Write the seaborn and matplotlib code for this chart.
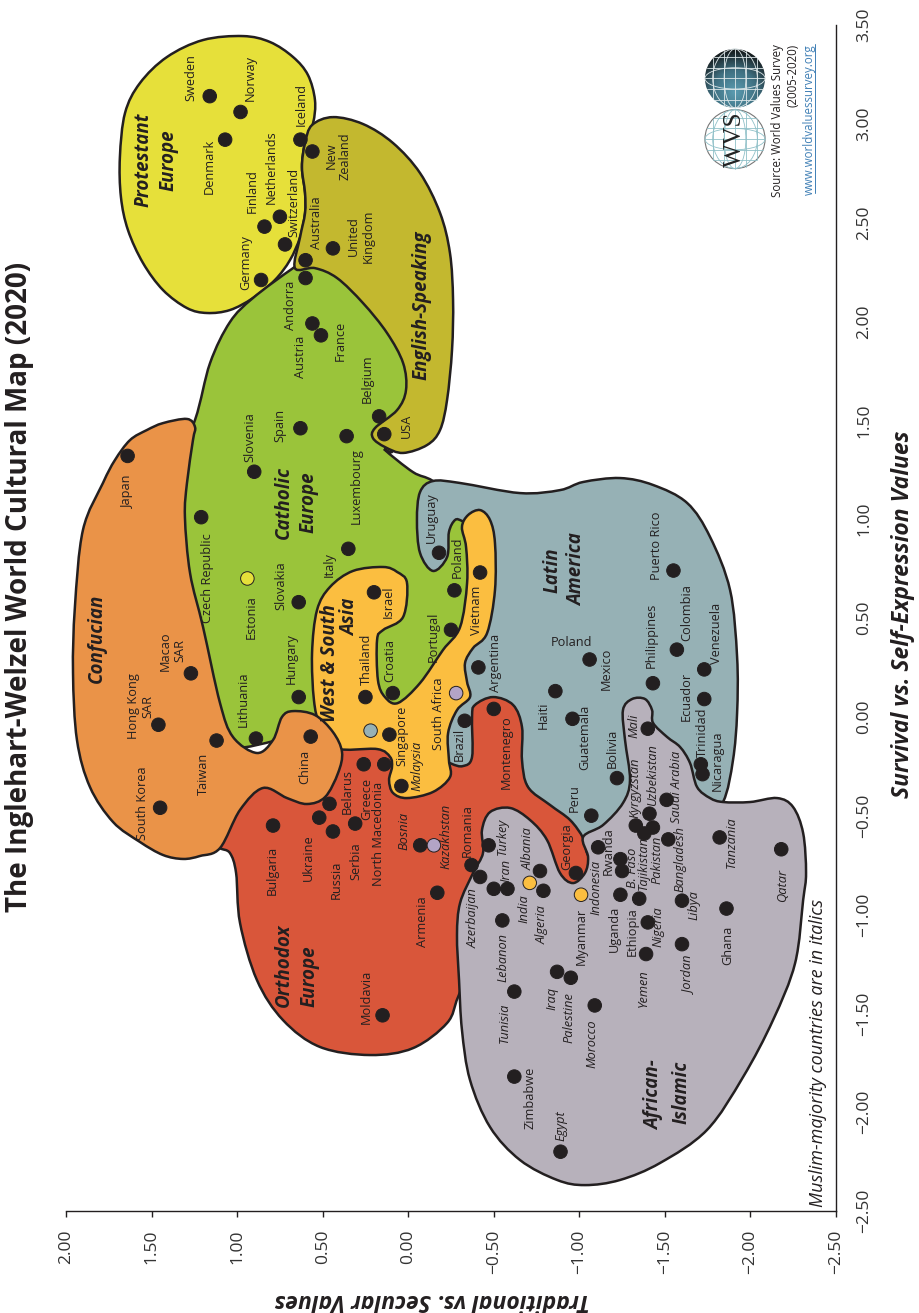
import numpy as np
import pandas as pd
import matplotlib
matplotlib.use('Agg')
import matplotlib.pyplot as plt
import seaborn as sns
from matplotlib.path import Path
from matplotlib.patches import PathPatch, Circle, Ellipse

# Countries: survival/self-expression and traditional/secular scores
countries = ['Sweden','Norway','Iceland','New Zealand','Denmark','Netherlands','Finland','Switzerland','Australia','United Kingdom',
             'Germany','Andorra','Austria','France','Belgium','USA','Spain','Luxembourg','Slovenia','Japan',
             'Czech Republic','Italy','Uruguay','Slovakia','Israel','Poland C','Portugal','Vietnam','Puerto Rico','Macao',
             'Hungary','Thailand','Croatia','Hong Kong','Taiwan','Lithuania','China','Singapore','Greece','North Macedonia',
             'Malaysia','Belarus','Ukraine','Russia','Serbia','Bulgaria','South Korea','Bosnia','Armenia','Moldavia',
             'Argentina','Mexico','Colombia','Venezuela','Philippines','Haiti','Ecuador','Guatemala','Montenegro','Brazil',
             'Mali','Trinidad','Nicaragua','Bolivia','Saudi Arabia','Peru','Uzbekistan','Kyrgyzstan','Pakistan','Tajikistan',
             'Bangladesh','Tanzania','Qatar','Indonesia','Rwanda','B. Faso','Turkey','Romania','Azerbaijan','Georgia',
             'Albania','Iran','Iran 2','Algeria','Uganda','Ethiopia','Libya','Lebanon','Nigeria','Ghana',
             'Jordan','Yemen','Iraq','Palestine','Tunisia','Morocco','Zimbabwe','Egypt',
             'Estonia','Kazakhstan','South Africa','India','Myanmar','Unlabelled']
survival = [3.14,3.06,2.92,2.86,2.92,2.53,2.48,2.39,2.31,2.37,
            2.21,2.22,1.99,1.93,1.52,1.43,1.46,1.42,1.24,1.32,
            1.01,0.85,0.83,0.58,0.63,0.64,0.44,0.73,0.74,0.22,
            0.10,0.10,0.12,-0.04,-0.12,-0.11,-0.10,-0.09,-0.24,-0.24,
            -0.35,-0.44,-0.51,-0.58,-0.54,-0.55,-0.46,-0.65,-0.89,-1.51,
            0.25,0.29,0.34,0.24,0.17,0.13,0.09,-0.01,0.04,-0.02,
            -0.06,-0.24,-0.29,-0.31,-0.42,-0.50,-0.49,-0.55,-0.56,-0.59,
            -0.62,-0.61,-0.67,-0.66,-0.72,-0.78,-0.65,-0.75,-0.81,-0.79,
            -0.78,-0.87,-0.87,-0.88,-0.90,-0.92,-0.93,-1.03,-1.04,-0.97,
            -1.15,-1.20,-1.29,-1.32,-1.39,-1.46,-1.82,-2.20,
            0.70,-0.65,0.12,-0.84,-0.90,-0.07]
traditional = [1.16,0.98,0.63,0.56,1.07,0.75,0.84,0.72,0.60,0.44,
               0.86,0.60,0.56,0.51,0.17,0.14,0.63,0.36,0.90,1.64,
               1.21,0.35,-0.18,0.64,0.20,-0.27,-0.25,-0.42,-1.55,1.27,
               0.64,0.25,0.09,1.46,1.12,0.89,0.57,0.11,0.26,0.14,
               0.04,0.46,0.52,0.44,0.31,0.79,1.45,-0.07,-0.17,0.15,
               -0.41,-1.06,-1.57,-1.73,-1.43,-0.86,-1.73,-0.96,-0.50,-0.33,
               -1.40,-1.71,-1.72,-1.22,-1.51,-1.07,-1.41,-1.33,-1.43,-1.38,
               -1.52,-1.82,-2.18,-1.11,-1.24,-1.25,-0.47,-0.37,-0.42,-0.98,
               -0.77,-0.50,-0.58,-0.79,-1.24,-1.35,-1.60,-0.55,-1.40,-1.86,
               -1.60,-1.39,-0.87,-0.95,-0.62,-1.09,-0.62,-0.89,
               0.94,-0.15,-0.28,-0.71,-1.01,0.22]
# countries sitting outside their cultural zone keep the colour of their zone
dot_zone = ['Base']*98 + ['Protestant','African','African','West','West','Latin']

# Zone outlines (survival, traditional)
protestant_s = [3.444,3.414,3.338,3.247,3.120,3.004,2.903,2.781,2.650,2.549,2.427,2.311,2.210,2.119,2.058,2.043,2.068,2.159,2.296,2.463,2.630,2.832,3.055,3.206,3.338,3.424]
protestant_t = [.966,.808,.673,.586,.545,.556,.603,.621,.603,.603,.632,.691,.779,.907,1.042,1.176,1.293,1.433,1.550,1.638,1.679,1.685,1.655,1.568,1.410,1.199]
catholic_s = [2.270,2.119,1.997,1.790,1.502,1.198,.793,.186,-.143,-.092,.009,.237,.490,.894,1.071,1.193,1.238,1.350,1.340,1.400,1.603,1.906,2.134,2.286,2.336]
catholic_t = [.673,.907,1.042,1.158,1.246,1.392,1.392,1.275,1.100,.632,.048,-.186,-.390,-.390,-.332,-.145,-.028,.136,.095,.077,-.069,-.069,.136,.369,.545]
english_s = [3.034,2.999,2.903,2.751,2.549,2.346,2.109,1.856,1.603,1.451,1.375,1.335,1.365,1.410,1.461,1.552,1.653,1.790,1.942,2.093,2.220,2.270,2.270,2.427,2.549,2.650,2.781,2.903,2.994]
english_t = [.440,.264,.089,-.069,-.186,-.244,-.262,-.256,-.227,-.186,-.110,.030,.136,.206,.194,.065,.013,.030,.124,.264,.416,.545,.662,.632,.603,.603,.621,.603,.562]
latin_s = [1.193,1.183,1.132,1.147,1.188,1.208,1.173,1.082,.910,.641,.303,.019,-.219,-.431,-.573,-.674,-.598,-.143,-.279,-.244,.085,.389,.591,.894,.960,.991,.996,.935,.808,.738,.829,.996,1.137]
latin_t = [-.145,-.303,-.653,-.887,-1.022,-1.238,-1.431,-1.630,-1.764,-1.881,-1.922,-1.922,-1.898,-1.840,-1.706,-1.238,-.887,-.537,-.390,-.186,-.157,-.332,-.420,-.420,-.373,-.314,-.274,-.238,-.227,-.145,-.069,-.051,-.069]
orthodox_s = [-.664,-.689,-.790,-1.043,-1.332,-1.534,-1.670,-1.711,-1.676,-1.549,-1.418,-1.230,-1.129,-.927,-.775,-.689,-.613,-.522,-.446,-.355,-.219,-.052,.060,.100,.060,-.001,-.203,-.249,-.234,-.168,-.092,-.320,-.269,-.421,-.623]
orthodox_t = [1.100,1.042,1.006,.983,.884,.732,.516,.223,-.028,-.227,-.291,-.390,-.653,-1.033,-1.092,-1.045,-1.022,-.946,-.829,-.700,-.665,-.665,-.613,-.496,-.390,-.373,-.373,-.320,-.244,-.098,.399,.632,.849,1.012,1.129]
westasia_s = [.677,.505,.439,.389,.186,.100,.070,.171,.338,.454,.677,.859,.960,1.021,1.046,.996,.879,.641,.424,.348,.272,.176,.100,.034,-.082,-.219,-.305,-.380,-.411,-.385,-.320,-.254,-.203,-.163,-.158,-.041,.085,.323,.540,.657,.738,.758,.733]
westasia_t = [.007,.030,.147,.182,.177,.136,.060,-.069,-.203,-.303,-.344,-.338,-.314,-.350,-.420,-.478,-.507,-.507,-.461,-.379,-.332,-.344,-.361,-.285,-.233,-.238,-.244,-.145,.007,.089,.112,.095,.106,.182,.428,.516,.551,.562,.533,.457,.323,.147,.065]
african_s = [-.689,-.573,-.482,-.461,-.522,-.623,-.790,-.841,-.790,-.709,-.608,-.547,-.436,-.320,-.117,.034,.090,.090,.034,-.031,-.102,-.153,-.234,-.355,-.411,-.431,-.431,-.411,-.456,-.588,-.790,-.927,-1.246,-1.534,-1.822,-2.090,-2.257,-2.343,-2.369,-2.343,-2.242,-2.075,-1.837,-1.584,-1.332,-1.104,-.942,-.790]
african_t = [-.437,-.431,-.478,-.595,-.712,-.811,-.887,-.963,-1.033,-1.051,-1.022,-1.139,-1.255,-1.296,-1.267,-1.255,-1.308,-1.384,-1.425,-1.431,-1.513,-1.589,-1.647,-1.688,-1.764,-1.840,-1.998,-2.156,-2.249,-2.308,-2.325,-2.308,-2.261,-2.132,-1.957,-1.746,-1.472,-1.238,-1.033,-.870,-.653,-.478,-.361,-.314,-.297,-.285,-.303,-.379]
confucian_s = [1.400,1.451,1.486,1.507,1.466,1.400,1.183,1.011,.727,.454,.070,-.102,-.183,-.117,-.001,.029,.009,-.077,-.178,-.284,-.406,-.441,-.411,-.360,-.471,-.664,-.704,-.719,-.699,-.633,-.532,-.355,-.117,.222,.555,.945,1.183,1.299]
confucian_t = [1.626,1.527,1.433,1.293,1.246,1.258,1.293,1.305,1.275,1.199,1.100,1.024,.884,.790,.738,.673,.545,.440,.387,.410,.486,.592,.708,.849,.983,1.100,1.217,1.316,1.433,1.568,1.725,1.860,1.936,1.959,1.948,1.901,1.784,1.714]

# Country labels: text and where it sits on the sheet (pixels)
label_names = ['Sweden','Norway','Iceland','New\nZealand','Denmark','Finland','Netherlands','Switzerland','Australia','United\nKingdom',
               'Germany','Andorra','Austria','France','Belgium','USA','Spain','Slovenia','Luxembourg','Japan',
               'Czech Republic','Italy','Uruguay','Estonia','Slovakia','Israel','Poland','Portugal','Vietnam','Croatia',
               'Thailand','Hungary','Macao\nSAR','Hong Kong\nSAR','Lithuania','Taiwan','China','South Korea','Singapore','South Africa',
               'Brazil','Argentina','Montenegro','Belarus','Greece','North Macedonia','Serbia','Ukraine','Russia','Bulgaria',
               'Romania','Georgia','Myanmar','Rwanda','Uganda','Ethiopia','Ghana','Zimbabwe','Armenia','Moldavia',
               'Peru','Bolivia','Guatemala','Haiti','Mexico','Philippines','Puerto Rico','Colombia','Venezuela','Ecuador',
               'Trinidad','Nicaragua']
label_px = [191,250,301,338,209,252,271,294,316,360.5,
            246,290,301,340,367,406,280,250,356,127,
            207,329,431,251,281,388,457,433,477,390,
            366,291,173,141,243,203,305,143,402,438,
            459,496,506,347,367,379,356,308,336,272,
            467,567,581,608,614,632,728,530,422,366,
            574,612,585,543,606,651,657,687,717,686,
            702,717]
label_py = [78,78,104,156,166,191,167,202,223,236,
            263,305,357,341,379,426,425,437,486,491,
            578,565,518,617,586,602,557,637,610,661,
            659,659,651,706,699,774,767,803,736,714,
            744,663,752,792,799,834,861,858,880,870,
            831,847,936,851,929,932,945,1098,922,997,
            798,748,737,715,669,635,546,613,633,696,
            732,761]
italic_names = ['Malaysia','Bosnia','Kazakhstan','Turkey','Iran','Albania','Azerbaijan','India','Algeria','Indonesia',
                'B. Faso','Tajikistan','Pakistan','Kyrgyzstan','Uzbekistan','Saudi Arabia','Bangladesh','Libya','Nigeria','Jordan',
                'Lebanon','Tunisia','Iraq','Palestine','Morocco','Yemen','Egypt','Tanzania','Qatar','Mali']
italic_px = [417,404,446,502,506,528,473,524,542,596,
             632,643,657,635,652,677,680,694,658,689,
             503,504,552,569,592,643,561,731,783,634]
italic_py = [766,831,836,836,870,849,918,909,925,887,
             868,863,860,788,774,787,859,905,927,975,
             957,1023,998,1018,1044,988,1126,842,885,726]

x_ticks = [-2.5,-2.0,-1.5,-1.0,-0.5,0.0,0.5,1.0,1.5,2.0]
x_ticklabels = ['−2.50','−2.00','−1.50','−1.00','−0.50','0.00','0.50','1.00','1.50','2.00']
y_ticks = [-2.5,-2.0,-1.5,-1.0,-0.5,0.0,0.5,1.0,1.5,2.0,2.5,3.0,3.5]
y_ticklabels = ['−2.50','−2.00','−1.50','−1.00','−0.50','0.00','0.50','1.00','1.50','2.00','2.50','3.00','3.50']

W, H = 919, 1313
INK = '#231f20'

sns.set_theme(style='white')
plt.rcParams['font.family'] = ['Open Sans', 'Noto Sans', 'DejaVu Sans']


def smooth_path(xs, ys):
    # closed Catmull-Rom curve through the outline points
    xy = np.column_stack([xs, ys])
    n = len(xy)
    verts = [xy[0]]
    codes = [Path.MOVETO]
    for i in range(n):
        p0, p1, p2, p3 = xy[i-1], xy[i], xy[(i+1) % n], xy[(i+2) % n]
        verts += [p1 + (p2-p0)/6, p2 - (p3-p1)/6, p2]
        codes += [Path.CURVE4]*3
    return Path(verts, codes)


def put(txt, px, py, **kw):
    kw.setdefault('rotation', 90)
    kw.setdefault('ha', 'center')
    kw.setdefault('va', 'center')
    kw.setdefault('color', INK)
    return fig.text(px/W, 1-py/H, txt, **kw)


fig = plt.figure(figsize=(W/100, H/100), dpi=100)
ax = fig.add_axes([66/W, 1-1211/H, (836-66)/W, (1211-25)/H])
ax.patch.set_alpha(0)

# Paper is on its side: traditional runs along the bottom, reversed
zones = [(protestant_t, protestant_s, '#e6e03a'),
         (catholic_t, catholic_s, '#9ac43a'),
         (english_t, english_s, '#c3b82f'),
         (latin_t, latin_s, '#96b1b5'),
         (orthodox_t, orthodox_s, '#d9563a'),
         (westasia_t, westasia_s, '#fbbe40'),
         (african_t, african_s, '#b7b1bb'),
         (confucian_t, confucian_s, '#ea9348')]
for i, (zx, zy, col) in enumerate(zones):
    ax.add_patch(PathPatch(smooth_path(zx, zy), facecolor=col, edgecolor=INK, lw=1.8, zorder=2+i*0.1))

df = pd.DataFrame({'country': countries, 'survival': survival, 'traditional': traditional, 'zone': dot_zone})
palette = {'Base': INK, 'Protestant': '#e6e03a', 'African': '#b3a4c6', 'West': '#fbbe40', 'Latin': '#96b1b5'}
sns.scatterplot(data=df, x='traditional', y='survival', hue='zone', palette=palette, s=95, linewidth=0.7,
                edgecolor=INK, legend=False, zorder=5, ax=ax)

ax.set_xlim(2.0, -2.5)
ax.set_ylim(-2.5, 3.5)
ax.yaxis.tick_right()
ax.set_xlabel('')
ax.set_ylabel('')
ax.set_xticks(x_ticks, x_ticklabels, rotation=90, va='top', fontsize=12.5, color='#333333')
ax.set_yticks(y_ticks, y_ticklabels, rotation=90, va='center', fontsize=12.5, color='#333333')
ax.tick_params(axis='x', length=4.5, width=1, color=INK, pad=9, bottom=True)
ax.tick_params(axis='y', length=4.5, width=1, color=INK, pad=10, right=True)
sns.despine(ax=ax, left=True, top=True, right=False, bottom=False)
for side in ['bottom', 'right']:
    ax.spines[side].set_color(INK)
    ax.spines[side].set_linewidth(1)

for name, px, py in zip(label_names, label_px, label_py):
    put(name, px, py, fontsize=9.2, linespacing=1.15)
put('Poland', 572, 642, rotation=0, fontsize=9.2)
for name, px, py in zip(italic_names, italic_px, italic_py):
    put(name, px, py, fontsize=9.2, style='italic')

# Zone names
zone_font = dict(fontsize=13.5, fontweight='bold', style='italic')
put('Protestant\nEurope', 156, 160, linespacing=1.3, **zone_font)
put('English-Speaking', 422, 305, **zone_font)
put('Catholic\nEurope', 296, 502, linespacing=1.3, **zone_font)
put('Confucian', 97, 638, **zone_font)
put('West & South', 330, 663, **zone_font)
put('Asia', 350, 617, **zone_font)
put('Latin\nAmerica', 565, 570, linespacing=1.3, **zone_font)
put('Orthodox', 284, 965, **zone_font)
put('Europe', 310, 976, **zone_font)
put('African-', 654, 1095, **zone_font)
put('Islamic', 682, 1092, **zone_font)

put('The Inglehart-Welzel World Cultural Map (2020)', 20, 587, fontsize=20, fontweight='bold')
put('Survival vs. Self-Expression Values', 903, 614, fontsize=16.5, fontweight='bold', style='italic')
put('Traditional vs. Secular Values', 432, 1300, rotation=180, fontsize=16.5, fontweight='bold', style='italic')
put('Muslim-majority countries are in italics', 818, 1053, fontsize=13, style='italic')

put('Source: World Values Survey', 777, 44, fontsize=8.3, va='top')
put('(2005-2020)', 793, 44, fontsize=8.3, va='top')
put('www.worldvaluessurvey.org', 809, 44, fontsize=8.3, va='top', color='#3f7fb5')
fig.add_artist(plt.Line2D([815/W, 815/W], [1-44/H, 1-193/H], color='#3f7fb5', lw=0.7))

# WVS logo, two globes
logo = fig.add_axes([704/W, 1-171/H, 62/W, 123/H])
logo.axis('off')
yy, xx = np.mgrid[1:-1:80j, -1:1:80j]
shade = np.clip(np.hypot(xx, yy+0.45)/1.45, 0, 1)
img = logo.imshow(shade, extent=[-1, 1, -1, 1], cmap=matplotlib.colors.LinearSegmentedColormap.from_list('g', ['#5a9bb0', '#3f6f80', '#111111']), aspect='auto')
img.set_clip_path(Circle((0, 0), 0.97, transform=logo.transData))
logo.set_ylim(-3.05, 1)
logo.set_xlim(-1, 1)
logo.add_patch(Circle((0, -2), 0.97, facecolor='white', edgecolor='#777777', lw=0.8))
for cy, col in [(0, '#dfe8ea'), (-2, '#8fc0c8')]:
    for w in [0.35, 0.72]:
        logo.add_patch(Ellipse((0, cy), 2*w, 1.94, fill=False, edgecolor=col, lw=0.6))
    logo.add_patch(Ellipse((0, cy), 1.94, 0.7, fill=False, edgecolor=col, lw=0.6))
    for v in [-0.7, -0.35, 0, 0.35, 0.7]:
        half = np.sqrt(0.97**2-v**2)
        logo.plot([v, v], [cy-half, cy+half], color=col, lw=0.6)
        logo.plot([-half, half], [cy+v, cy+v], color=col, lw=0.6)
logo.text(0, -2.02, 'WVS', rotation=90, ha='center', va='center', fontsize=18, fontfamily='Liberation Serif', color='#222222')

fig.savefig('out.png', dpi=100)
